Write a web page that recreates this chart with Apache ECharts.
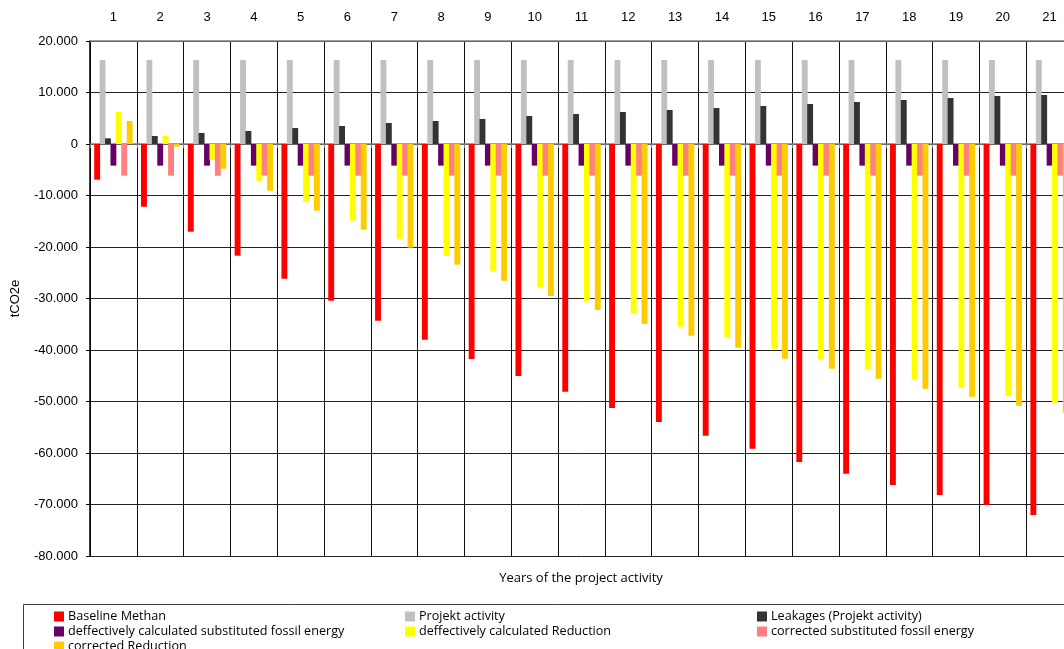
<!DOCTYPE html>
<html>
<head>
<meta charset="utf-8">
<title>tCO2e per project year</title>
<script src="https://cdn.jsdelivr.net/npm/echarts@6/dist/echarts.min.js"></script>
<style>
  html, body { margin: 0; padding: 0; background: #fff; overflow: hidden; }
  /* the plot and the legend box run a little past the edges of the page */
  #chart { width: 1090px; height: 690px; }
</style>
</head>
<body>
<div id="chart"></div>
<script>
// Years of the project activity
const years = ['1','2','3','4','5','6','7','8','9','10','11','12','13','14','15','16','17','18','19','20','21'];

// Emissions / reductions in tCO2e per year
const baselineMethan = [-6930, -12170, -17030, -21690, -26150, -30420, -34300, -38000, -41750, -45050, -48090, -51260, -53980, -56640, -59160, -61750, -64010, -66210, -68150, -70100, -72040];
const projektActivity = [16300, 16300, 16300, 16300, 16300, 16300, 16300, 16300, 16300, 16300, 16300, 16300, 16300, 16300, 16300, 16300, 16300, 16300, 16300, 16300, 16300];
const leakages = [1100, 1550, 2140, 2520, 3100, 3500, 4080, 4470, 4850, 5440, 5830, 6210, 6600, 6990, 7380, 7770, 8150, 8540, 8930, 9320, 9510];
const defSubstitutedFossil = [-4200, -4200, -4200, -4200, -4200, -4200, -4200, -4200, -4200, -4200, -4200, -4200, -4200, -4200, -4200, -4200, -4200, -4200, -4200, -4200, -4200];
const defReduction = [6210, 1550, -3100, -7180, -11200, -14900, -18390, -21690, -24800, -27800, -30490, -32950, -35470, -37610, -39750, -41880, -43830, -45630, -47310, -48870, -50230];
const corrSubstitutedFossil = [-6150, -6150, -6150, -6150, -6150, -6150, -6150, -6150, -6150, -6150, -6150, -6150, -6150, -6150, -6150, -6150, -6150, -6150, -6150, -6150, -6150];
const corrReduction = [4470, -520, -4800, -9070, -12950, -16640, -20140, -23440, -26540, -29500, -32230, -34950, -37220, -39550, -41690, -43630, -45570, -47510, -49070, -50820, -52180];

const seriesNames = [
  'Baseline Methan',
  'Projekt activity',
  'Leakages (Projekt activity)',
  'deffectively calculated substituted fossil energy',
  'deffectively calculated Reduction',
  'corrected substituted fossil energy',
  'corrected Reduction'
];
const seriesColors = ['#FF0000', '#C0C0C0', '#333333', '#660066', '#FFFF00', '#FF8080', '#FFCC00'];
const seriesData = [baselineMethan, projektActivity, leakages, defSubstitutedFossil, defReduction, corrSubstitutedFossil, corrReduction];

// y-axis ticks: 20.000 ... -80.000 (dot as thousands separator)
function fmtThousands(v) {
  if (v === 0) return '0';
  const s = Math.abs(v).toString().replace(/\B(?=(\d{3})+(?!\d))/g, '.');
  return (v < 0 ? '-' : '') + s;
}

const axisFont = 'Liberation Sans, Arial, sans-serif';
const legendFont = 'Open Sans, sans-serif';

const chart = echarts.init(document.getElementById('chart'), null, { renderer: 'canvas' });

const legendText = { fontFamily: legendFont, fontSize: 12.6, color: '#000' };
function legendColumn(left, names) {
  return {
    orient: 'vertical',
    left: left,
    top: 610,
    itemWidth: 10,
    itemHeight: 10,
    itemGap: 2,
    icon: 'rect',
    padding: 0,
    textStyle: Object.assign({ padding: [0, 0, 0, -1], lineHeight: 12.5 }, legendText),
    data: names
  };
}

chart.setOption({
  animation: false,
  backgroundColor: '#fff',
  title: {
    text: 'Years of the project activity',
    left: 581,
    top: 572,
    textAlign: 'center',
    padding: 0,
    textStyle: { fontFamily: legendFont, fontSize: 13, fontWeight: 'normal', color: '#000' }
  },
  legend: [
    legendColumn(54, [seriesNames[0], seriesNames[3], seriesNames[6]]),
    legendColumn(405, [seriesNames[1], seriesNames[4]]),
    legendColumn(757, [seriesNames[2], seriesNames[5]])
  ],
  graphic: [{
    type: 'rect',
    shape: { x: 23.5, y: 604.5, width: 1100, height: 100 },
    style: { fill: 'none', stroke: '#404040', lineWidth: 1 },
    silent: true,
    z: -1
  }],
  grid: { left: 90, top: 41, width: 983, height: 515 },
  xAxis: [
    {
      type: 'category',
      data: years,
      position: 'bottom',
      axisLine: { onZero: true, lineStyle: { color: '#808080', width: 1.5 } },
      axisTick: { show: true, length: 4, lineStyle: { color: '#808080' } },
      axisLabel: { show: false },
      splitLine: { show: true, lineStyle: { color: '#111', width: 1 } }
    },
    {
      type: 'category',
      data: years,
      position: 'top',
      axisLine: { onZero: false, lineStyle: { color: '#808080', width: 1.5 } },
      axisTick: { show: false },
      axisLabel: { show: true, margin: 17, fontFamily: axisFont, fontSize: 13, color: '#000' },
      splitLine: { show: false }
    }
  ],
  yAxis: {
    type: 'value',
    min: -80000,
    max: 20000,
    interval: 10000,
    name: 'tCO2e',
    nameLocation: 'middle',
    nameRotate: 90,
    nameGap: 68,
    nameTextStyle: { fontFamily: axisFont, fontSize: 13, color: '#000' },
    axisLine: { show: true, lineStyle: { color: '#000', width: 1.5 } },
    axisTick: { show: true, length: 4, lineStyle: { color: '#000' } },
    axisLabel: { margin: 12, fontFamily: axisFont, fontSize: 13, color: '#000', formatter: fmtThousands },
    splitLine: { show: true, lineStyle: { color: '#222', width: 1 } }
  },
  series: seriesNames.map((name, i) => ({
    name: name,
    type: 'bar',
    xAxisIndex: 0,
    data: seriesData[i],
    barCategoryGap: '18%',
    barGap: '-8%',
    itemStyle: { color: seriesColors[i] }
  }))
});
</script>
</body>
</html>
